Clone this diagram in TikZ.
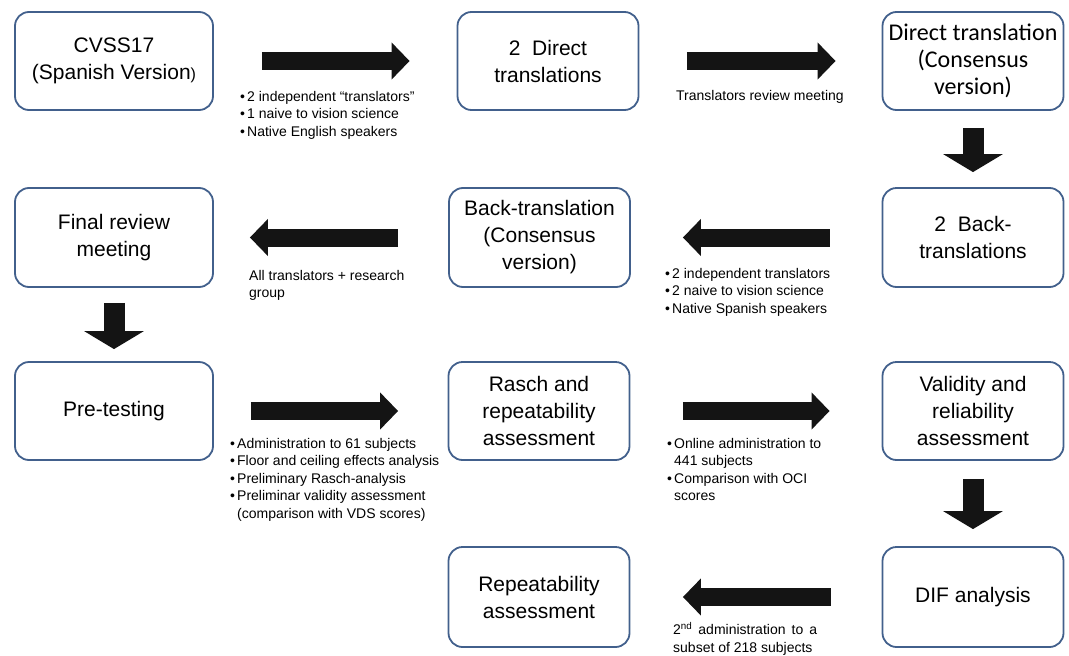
\documentclass[tikz,border=0pt]{standalone}
\usepackage{fontspec}
\setmainfont{Liberation Sans}
\newfontfamily\calfont{Carlito}
\usetikzlibrary{arrows.meta}
\definecolor{boxblue}{RGB}{66,96,140}
\newcommand{\bl}{\makebox[7pt][l]{•}}
\tikzstyle{box} = [rectangle, rounded corners=14pt, draw=boxblue, line width=1.8pt, align=center, inner sep=0pt, font=\fontsize{21}{27}\selectfont]
\tikzstyle{wide} = [box, minimum width=198pt, minimum height=98pt]
\tikzstyle{narrow} = [box, minimum width=181pt, minimum height=98pt]
\tikzstyle{note} = [anchor=north west, align=left, inner sep=0pt, font=\fontsize{14}{17.5}\selectfont]
\tikzstyle{harrow} = [line width=18pt, draw=black!92, -{Triangle[width=36pt,length=18pt]}]
\tikzstyle{varrow} = [line width=21pt, draw=black!92, -{Triangle[width=59pt,length=18pt]}]

\begin{document}
\begin{tikzpicture}[x=1pt, y=-1pt]

	\useasboundingbox (0,0) rectangle (1069,656);

	\node (cvss) [wide] at (114,61) {CVSS17\\(Spanish Version{\fontsize{16}{16}\selectfont )}};
	\node (direct) [narrow] at (548,61) {2\ \ Direct\\translations};
	\node (consensus) [narrow, font=\calfont\fontsize{24}{27}\selectfont] at (973,61) {Direct translation\\(Consensus\\version)};
	\node (backtrans) [narrow, minimum height=99pt] at (973,237.5) {2\ \ Back-\\translations};
	\node (backcons) [narrow, minimum height=99pt] at (539.5,237.5) {Back-translation\\(Consensus\\version)};
	\node (finalrev) [wide, minimum height=99pt] at (114,237.5) {Final review\\meeting};
	\node (pretest) [wide] at (114,411) {Pre-testing};
	\node (rasch) [narrow] at (539,411) {Rasch and\\repeatability\\assessment};
	\node (validity) [narrow] at (973,411) {Validity and\\reliability\\assessment};
	\node (dif) [narrow, minimum height=100pt] at (973,597) {DIF analysis};
	\node (repeat) [narrow, minimum height=100pt] at (539,597) {Repeatability\\assessment};

	\draw [harrow] ([xshift=48pt]cvss.east) -- ([xshift=-47pt]direct.west);
	\draw [harrow] ([xshift=47.5pt]direct.east) -- ([xshift=-46pt]consensus.west);
	\draw [varrow] ([yshift=-17pt]consensus.south) -- ([yshift=15pt]backtrans.north);
	\draw [harrow] ([xshift=-52pt]backtrans.west) -- ([xshift=52pt]backcons.east);
	\draw [harrow] ([xshift=-50pt]backcons.west) -- ([xshift=36pt]finalrev.east);
	\draw [varrow] ([yshift=-15pt]finalrev.south) -- ([yshift=12pt]pretest.north);
	\draw [harrow] ([xshift=37pt]pretest.east) -- ([xshift=-49.5pt]rasch.west);
	\draw [harrow] ([xshift=52.5pt]rasch.east) -- ([xshift=-52pt]validity.west);
	\draw [varrow] ([yshift=-18pt]validity.south) -- ([yshift=17pt]dif.north);
	\draw [harrow] ([xshift=-51pt]dif.west) -- ([xshift=52.5pt]repeat.east);

	\node (lab1) [note] at (240,91) {\bl 2 independent “translators”\\\bl 1 naive to vision science\\\bl Native English speakers};
	\node (lab2) [note] at (676,90) {Translators review meeting};
	\node (lab3) [note] at (249,270) {All translators + research\\group};
	\node (lab4) [note] at (665,268) {\bl 2 independent translators\\\bl 2 naive to vision science\\\bl Native Spanish speakers};
	\node (lab5) [note] at (230,438) {\bl Administration to 61 subjects\\\bl Floor and ceiling effects analysis\\\bl Preliminary Rasch-analysis\\\bl Preliminar validity assessment\\\hspace*{7pt}(comparison with VDS scores)};
	\node (lab6) [note] at (667,438) {\bl Online administration to\\\hspace*{7pt}441 subjects\\\bl Comparison with OCI\\\hspace*{7pt}scores};
	\node (lab7) [note] at (673,622) {\makebox[144pt][s]{2\textsuperscript{nd} administration to a}\\subset of 218 subjects};

\end{tikzpicture}
\end{document}
